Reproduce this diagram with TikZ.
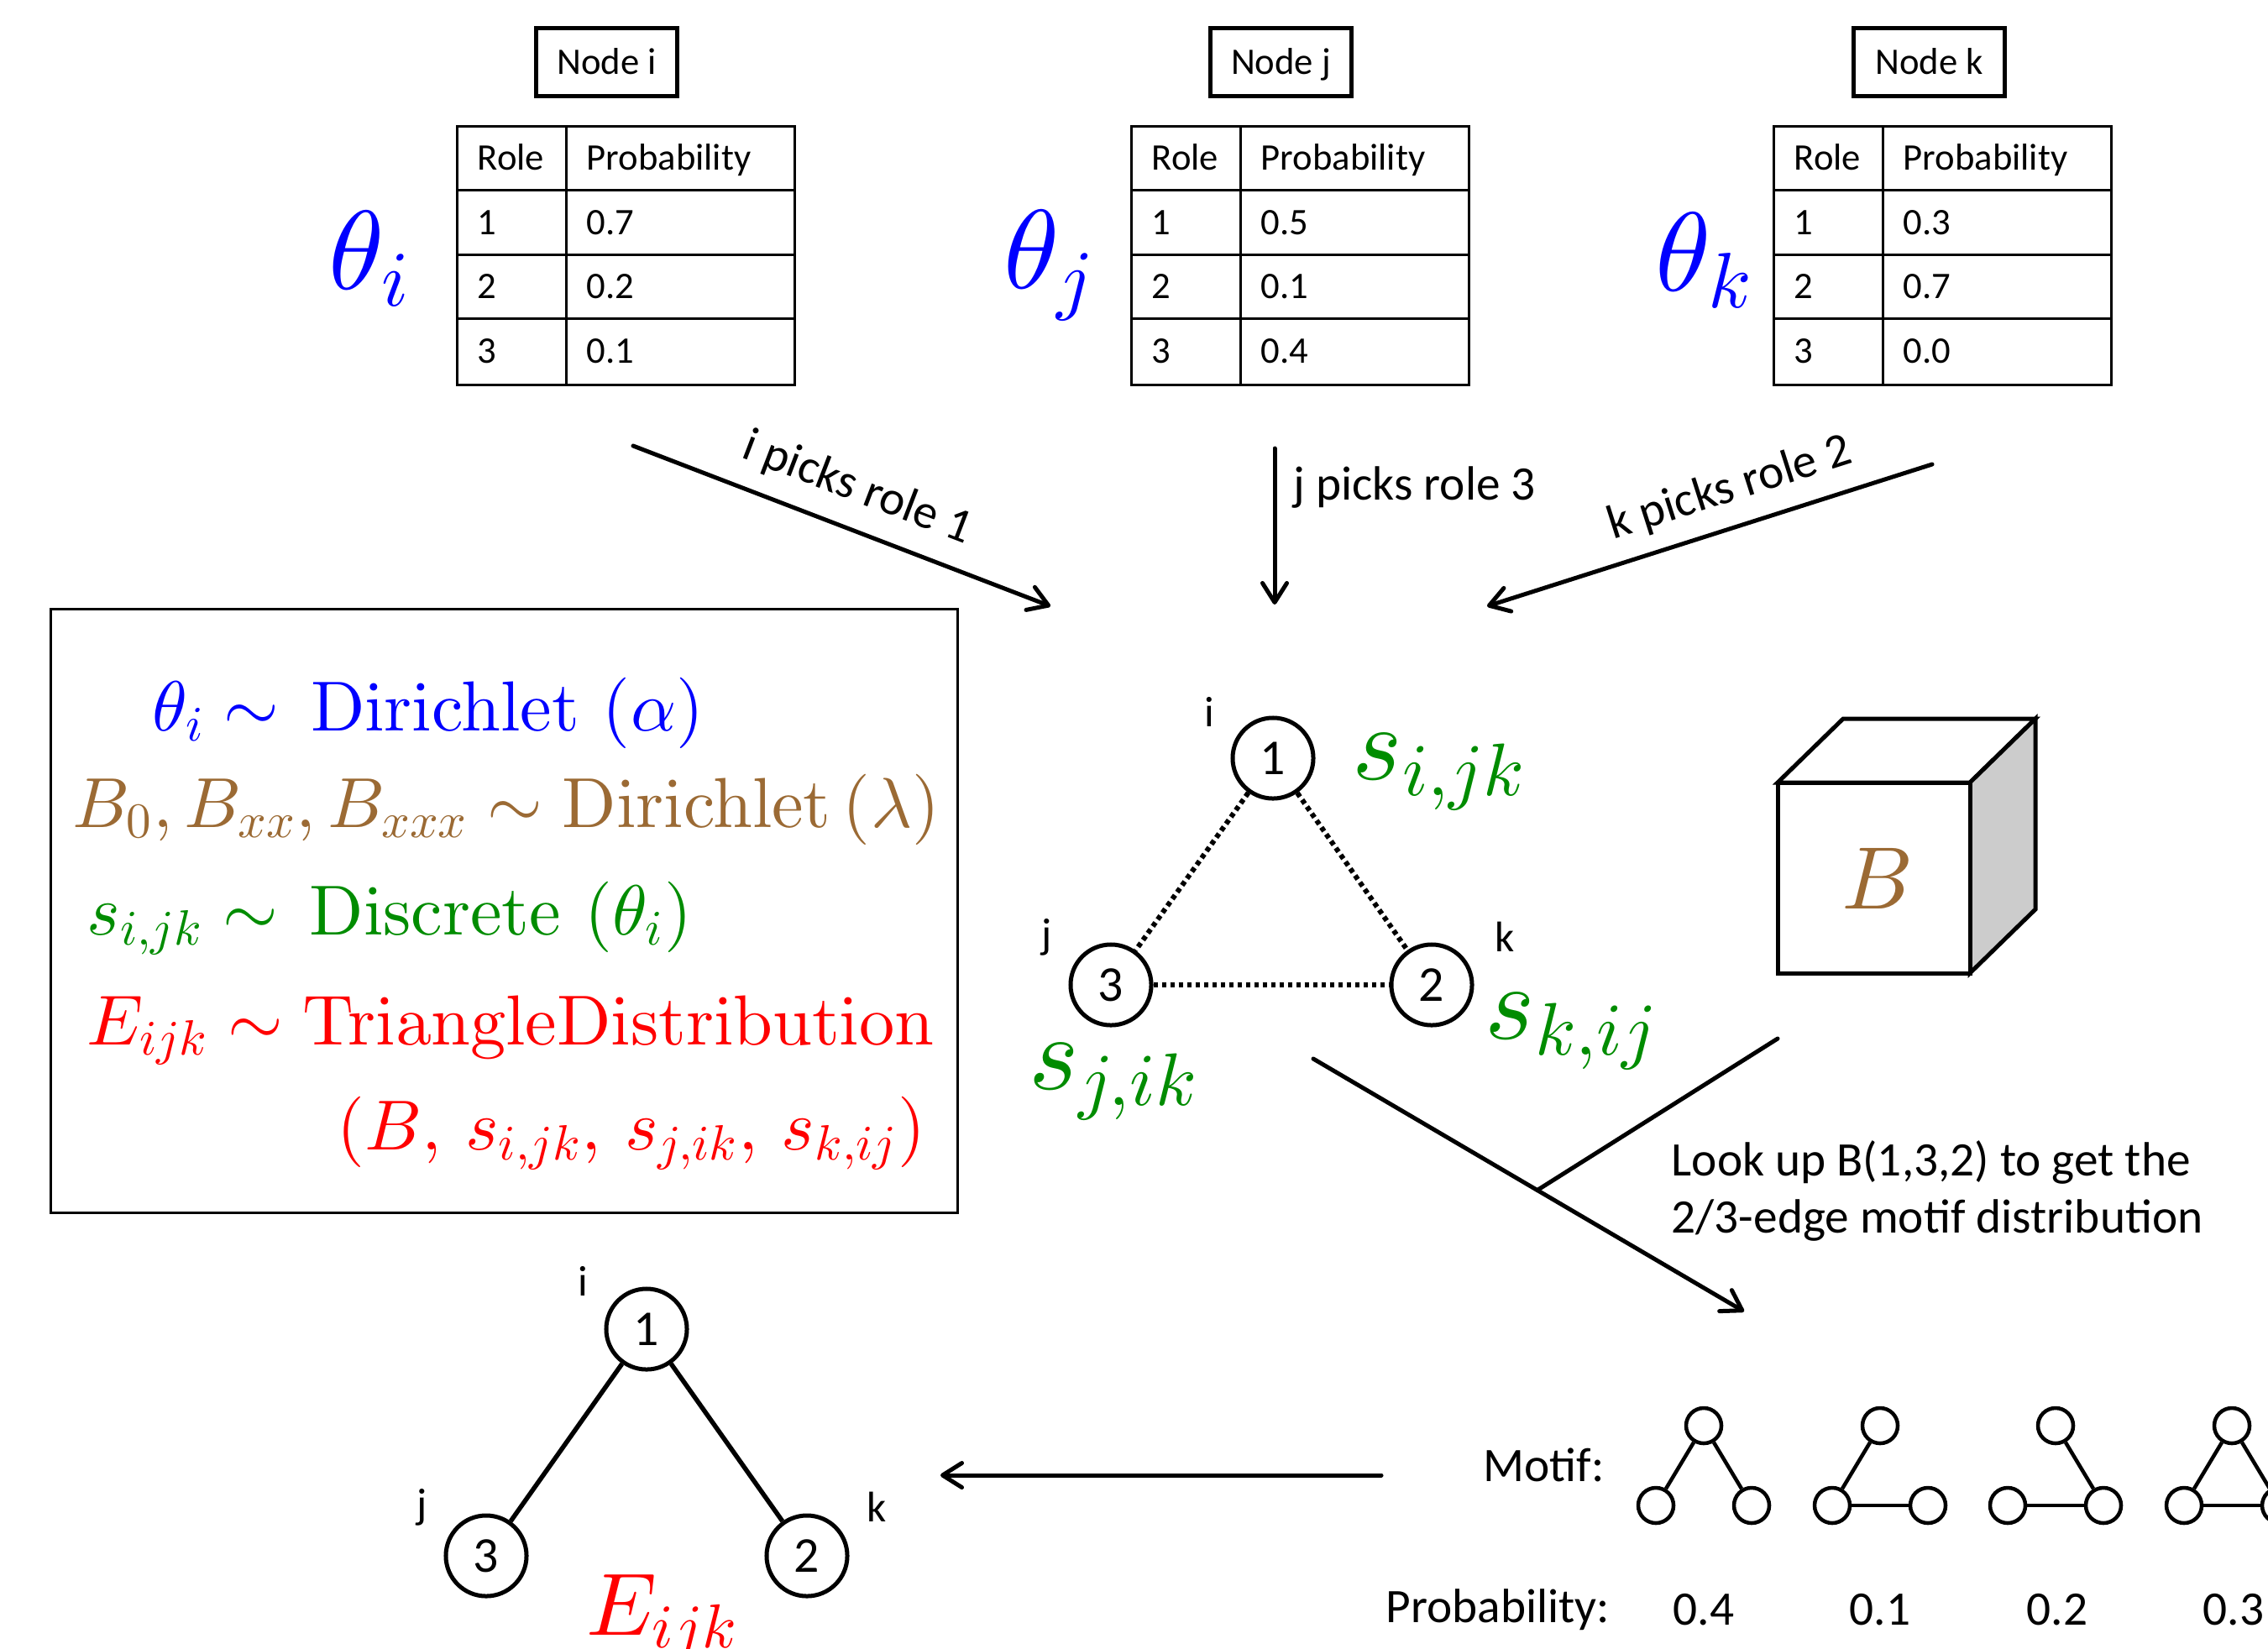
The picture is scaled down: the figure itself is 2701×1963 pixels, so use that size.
\documentclass[tikz,border=0pt]{standalone}
\usepackage[no-math]{fontspec}
\newfontfamily\calib{Carlito}
\DeclareFontShape{OT1}{cmr}{m}{n}{<-> cmr10}{}
\DeclareFontShape{OML}{cmm}{m}{it}{<-> cmmi10}{}
\DeclareFontShape{OMS}{cmsy}{m}{n}{<-> cmsy10}{}
\DeclareFontShape{OMX}{cmex}{m}{n}{<-> cmex10}{}
\usetikzlibrary{arrows.meta,calc}
\definecolor{mblue}{RGB}{0,0,255}
\definecolor{mbrown}{RGB}{155,106,52}
\definecolor{mgreen}{RGB}{0,140,0}
\definecolor{mred}{RGB}{255,0,0}
\begin{document}
\begin{tikzpicture}[x=0.01cm,y=-0.01cm,
  namebox/.style={draw, line width=0.05cm, inner sep=0pt, minimum height=0.8cm, text height=8.2pt, text depth=0pt, font=\calib\fontsize{12.7}{15}\selectfont},
  tabline/.style={line width=0.03cm},
  celltxt/.style={anchor=base west, inner sep=0pt, font=\calib\fontsize{12.7}{15}\selectfont},
  theta/.style={inner sep=0pt, text=mblue, font=\fontsize{38}{45}\selectfont},
  arr/.style={line width=0.05cm, line cap=round, -{Straight Barb[round,length=0.23cm,width=0.29cm]}},
  pick/.style={inner sep=0pt, font=\calib\fontsize{16.3}{19.3}\selectfont},
  rolenode/.style={circle, draw, line width=0.05cm, minimum size=0.96cm, inner sep=0pt, font=\calib\fontsize{17}{20}\selectfont},
  vlab/.style={inner sep=0pt, font=\calib\fontsize{14.5}{17}\selectfont},
  dotedge/.style={line width=0.06cm, dash pattern=on 0.055cm off 0.045cm},
  solidedge/.style={line width=0.055cm},
  mnode/.style={circle, draw, line width=0.045cm, minimum size=0.42cm, inner sep=0pt},
  medge/.style={line width=0.045cm},
  eq/.style={inner sep=0pt, font=\fontsize{24}{29}\selectfont},
  slab/.style={inner sep=0pt, text=mgreen, font=\fontsize{36}{42}\selectfont},
]
\useasboundingbox (0,0) rectangle (2701,1963);

% Node name boxes
\node[namebox, minimum width=1.67cm] (nbi) at (722.5,74) {Node i};
\node[namebox, minimum width=1.67cm] (nbj) at (1525.5,74) {Node j};
\node[namebox, minimum width=1.80cm] (nbk) at (2297.5,74) {Node k};

% Tables
\foreach \tx/\tn/\pa/\pb/\pc in {544/i/0.7/0.2/0.1, 1347/j/0.5/0.1/0.4, 2112/k/0.3/0.7/0.0} {
  \draw[tabline] (\tx,150) rectangle ++(402,308);
  \draw[tabline] (\tx,226) -- ++(402,0);
  \draw[tabline] (\tx,303) -- ++(402,0);
  \draw[tabline] (\tx,379) -- ++(402,0);
  \draw[tabline] (\tx+130,150) -- ++(0,308);
  \node[celltxt] (rh\tn) at (\tx+24,202) {Role};
  \node[celltxt] (ph\tn) at (\tx+154,202) {Probability};
  \node[celltxt] (ra\tn) at (\tx+24,279) {1};
  \node[celltxt] (pa\tn) at (\tx+154,279) {\pa};
  \node[celltxt] (rb\tn) at (\tx+24,355) {2};
  \node[celltxt] (pb\tn) at (\tx+154,355) {\pb};
  \node[celltxt] (rc\tn) at (\tx+24,432) {3};
  \node[celltxt] (pc\tn) at (\tx+154,432) {\pc};
}

% Thetas
\node[theta] (thi) at (440,308) {$\theta_i$};
\node[theta] (thj) at (1250,316) {$\theta_j$};
\node[theta] (thk) at (2030,310) {$\theta_k$};

% Pick arrows
\coordinate (a1s) at (754,531);
\coordinate (a1e) at (1251,722);
\coordinate (a2s) at (1518,534);
\coordinate (a2e) at (1518,720);
\coordinate (a3s) at (2301,553);
\coordinate (a3e) at (1771,722);
\draw[arr] (a1s) -- (a1e);
\draw[arr] (a2s) -- (a2e);
\draw[arr] (a3s) -- (a3e);
\node[pick, rotate=-21] (pki) at (1021,582) {i picks role 1};
\node[pick, anchor=west] (pkj) at (1540,580) {j picks role 3};
\node[pick, rotate=17.7] (pkk) at (2060,582) {k picks role 2};

% Equation box
\draw[line width=0.03cm] (60,725) rectangle (1140,1444);
\node[eq, text=mblue, anchor=base west] (eq1) at (181,870) {$\theta_i \sim\mkern3mu \mathrm{Dirichlet}\,\left(\alpha\right)$};
\node[eq, text=mbrown, anchor=base west] (eq2) at (86,985) {$B_0, B_{xx}, B_{xxx} \sim \mathrm{Dirichlet}\left(\lambda\right)$};
\node[eq, text=mgreen, anchor=base west] (eq3) at (103,1113) {$s_{i,jk} \sim\mkern3mu \mathrm{Discrete}\,\left(\theta_i\right)$};
\node[eq, text=mred, anchor=base west] (eq4) at (103,1244) {$E_{ijk} \sim \mathrm{TriangleDistribution}$};
\node[eq, text=mred, anchor=base east] (eq5) at (1103,1369) {$\left(B,\mkern3mu s_{i,jk},\mkern3mu s_{j,ik},\mkern3mu s_{k,ij}\right)$};

% Central triangle
\node[rolenode] (c1) at (1516,903) {1};
\node[rolenode] (c3) at (1323,1173) {3};
\node[rolenode] (c2) at (1705,1173) {2};
\draw[dotedge] (c1) -- (c3);
\draw[dotedge] (c1) -- (c2);
\draw[dotedge] (c3) -- (c2);
\node[vlab] (ci) at (1440,848) {i};
\node[vlab] (cj) at (1247,1116) {j};
\node[vlab] (ck) at (1792,1116) {k};
\node[slab, anchor=base] (sijk) at (1714,928) {$s_{i,jk}$};
\node[slab, anchor=base] (sjik) at (1326,1297) {$s_{j,ik}$};
\node[slab, anchor=base] (skij) at (1872,1237) {$s_{k,ij}$};

% Cube
\draw[line width=0.05cm, fill=white] (2117,932) -- (2195,856) -- (2424,856) -- (2346,932) -- cycle;
\draw[line width=0.05cm, fill=black!20] (2346,932) -- (2424,856) -- (2424,1083) -- (2346,1159) -- cycle;
\draw[line width=0.05cm, fill=white] (2117,932) rectangle (2346,1159);
\node[inner sep=0pt, text=mbrown, font=\fontsize{30}{36}\selectfont] (cubeB) at (2236,1046) {$B$};

% Lookup arrow
\coordinate (lkA) at (1564,1261);
\coordinate (lkB) at (2077,1562);
\coordinate (lkC) at (2117,1237);
\coordinate (lkJ) at ($(lkA)!0.52!(lkB)$);
\draw[arr] (lkA) -- (lkB);
\draw[line width=0.05cm, line cap=round] (lkC) -- (lkJ);
\node[pick, anchor=west, align=left] (lookup) at (1990,1418) {Look up B(1,3,2) to get the\\2/3-edge motif distribution};

% Motifs
\node[pick, anchor=west] (motif) at (1766,1745) {Motif:};
\node[pick, anchor=west] (probl) at (1650,1917) {Probability:};
\foreach \mx/\mn in {2029/a, 2239/b, 2448/c, 2658/d} {
  \node[mnode] (mt\mn) at (\mx,1698) {};
  \node[mnode] (ml\mn) at (\mx-57,1793) {};
  \node[mnode] (mr\mn) at (\mx+57,1793) {};
}
\draw[medge] (mta) -- (mla);
\draw[medge] (mta) -- (mra);
\draw[medge] (mtb) -- (mlb);
\draw[medge] (mlb) -- (mrb);
\draw[medge] (mtc) -- (mrc);
\draw[medge] (mlc) -- (mrc);
\draw[medge] (mtd) -- (mld);
\draw[medge] (mtd) -- (mrd);
\draw[medge] (mld) -- (mrd);
\node[pick] (pva) at (2029,1917) {0.4};
\node[pick] (pvb) at (2239,1917) {0.1};
\node[pick] (pvc) at (2450,1917) {0.2};
\node[pick] (pvd) at (2660,1917) {0.3};

% Left arrow
\coordinate (lfA) at (1645,1757);
\coordinate (lfB) at (1120,1757);
\draw[arr] (lfA) -- (lfB);

% Bottom triangle
\node[rolenode] (b1) at (770,1583) {1};
\node[rolenode] (b3) at (579,1853) {3};
\node[rolenode] (b2) at (961,1853) {2};
\draw[solidedge] (b1) -- (b3);
\draw[solidedge] (b1) -- (b2);
\node[vlab] (bi) at (694,1526) {i};
\node[vlab] (bj) at (503,1795) {j};
\node[vlab] (bk) at (1044,1795) {k};
\node[inner sep=0pt, text=mred, anchor=base, font=\fontsize{30}{36}\selectfont] (eijk) at (789,1947) {$E_{ijk}$};
\end{tikzpicture}
\end{document}
